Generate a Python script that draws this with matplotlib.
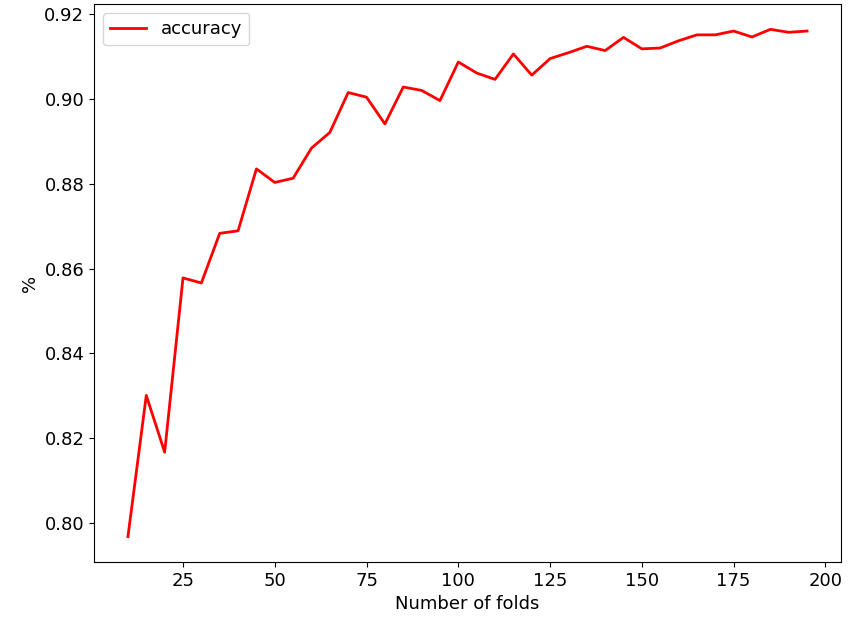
import matplotlib
matplotlib.use("Agg")
import matplotlib.pyplot as plt

# number of folds vs. accuracy
folds = list(range(10, 200, 5))
accuracy = [
    0.7968, 0.8301, 0.8167, 0.8578, 0.8566, 0.8683, 0.8689, 0.8835,
    0.8803, 0.8813, 0.8884, 0.8921, 0.9015, 0.9004, 0.8941, 0.9028,
    0.9020, 0.8996, 0.9087, 0.9061, 0.9046, 0.9106, 0.9056, 0.9095,
    0.9109, 0.9124, 0.9114, 0.9145, 0.9118, 0.9120, 0.9137, 0.9151,
    0.9151, 0.9160, 0.9146, 0.9164, 0.9157, 0.9160,
]

plt.rcParams['font.size'] = 13

fig = plt.figure(figsize=(8.49, 6.22), dpi=100)
ax = fig.add_axes([0.1107, 0.0965, 0.8799, 0.8971])

ax.plot(folds, accuracy, color='red', linewidth=2, label='accuracy')
ax.set_xlabel('Number of folds')
ax.set_ylabel('%')
ax.set_yticks([0.80, 0.82, 0.84, 0.86, 0.88, 0.90, 0.92])
ax.legend(loc='upper left')

fig.savefig('out.png', dpi=100)
